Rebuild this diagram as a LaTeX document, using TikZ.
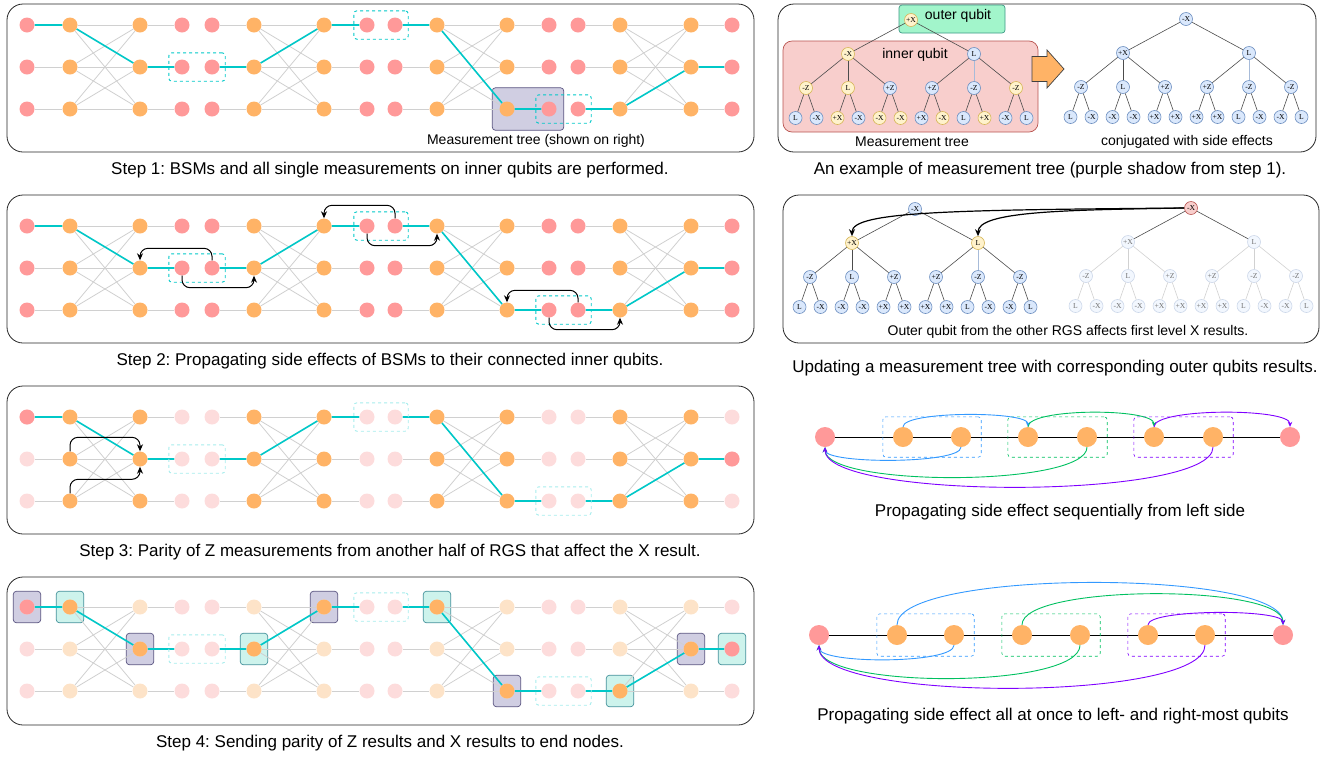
\documentclass[tikz,border=0pt]{standalone}
\usepackage{fontspec}
\setmainfont{Liberation Sans}
\newfontfamily\treefont{Liberation Serif}
\usetikzlibrary{arrows.meta,fit}
\frenchspacing

\definecolor{qred}{HTML}{FF9999}
\definecolor{qorange}{HTML}{FFB366}
\definecolor{qredf}{HTML}{FDDCDC}
\definecolor{qorangef}{HTML}{FDE3C8}
\definecolor{qteal}{HTML}{00C8C8}
\definecolor{qtealf}{HTML}{A6ECEC}
\definecolor{qwire}{HTML}{D0D0D0}
\definecolor{pfill}{HTML}{D0CEE2}
\definecolor{pdraw}{HTML}{56517E}
\definecolor{tfill}{HTML}{CDF3EC}
\definecolor{tdraw}{HTML}{3F8F99}
\definecolor{yfill}{HTML}{FFF2CC}
\definecolor{ydraw}{HTML}{D6B656}
\definecolor{bfill}{HTML}{DAE8FC}
\definecolor{bdraw}{HTML}{6C8EBF}
\definecolor{rfill}{HTML}{F8CECC}
\definecolor{rdraw}{HTML}{B85450}
\definecolor{gfill}{HTML}{A2F5CB}
\definecolor{gdraw}{HTML}{3C9A86}
\definecolor{sblue}{HTML}{3399FF}
\definecolor{sgreen}{HTML}{00C060}
\definecolor{spurple}{HTML}{7F00FF}

\pgfdeclarelayer{bg}
\pgfdeclarelayer{mid}
\pgfsetlayers{bg,mid,main}

\tikzset{
  rq/.style={circle,fill=qred,minimum size=15pt,inner sep=0pt},
  rqf/.style={rq,fill=qredf},
  oq/.style={rq,fill=qorange},
  oqf/.style={rq,fill=qorangef},
  wire/.style={draw=qwire,line width=0.8pt},
  tpath/.style={draw=qteal,line width=1.6pt},
  bsm/.style={draw=qteal,dashed,line width=0.9pt,rounded corners=3pt,inner xsep=5.5pt,inner ysep=6.5pt},
  bsmf/.style={bsm,draw=qtealf},
  pshade/.style={fill=pfill,draw=pdraw,line width=0.7pt,rounded corners=3pt,inner xsep=6pt,inner ysep=8pt},
  tshade/.style={pshade,fill=tfill,draw=tdraw},
  panel/.style={draw=black!85,line width=0.8pt,rounded corners=16pt},
  stepcap/.style={font=\fontsize{17}{19}\selectfont},
  intext/.style={font=\fontsize{14}{16}\selectfont},
  bendarr/.style={draw,line width=1pt,rounded corners=8pt,-{Stealth[length=7pt,width=6pt]}},
  tq/.style={circle,draw,line width=0.6pt,minimum size=13pt,inner sep=0pt,font=\treefont\fontsize{7.6}{8}\selectfont},
  yq/.style={tq,fill=yfill,draw=ydraw},
  bq/.style={tq,fill=bfill,draw=bdraw},
  bqf/.style={tq,fill=bfill!35,draw=bdraw!35,text=black!55},
  rtq/.style={tq,fill=rfill,draw=rdraw},
  mtree/.style={level distance=34pt,
    level 1/.style={sibling distance=126pt},
    level 2/.style={sibling distance=42pt},
    level 3/.style={sibling distance=21pt,level distance=30pt},
    edge from parent/.style={draw=black!70,line width=0.6pt}},
  pq/.style={circle,minimum size=20pt,inner sep=0pt},
  sbox/.style={dashed,line width=0.6pt,rounded corners=3pt,inner xsep=10pt,inner ysep=10pt},
  sarr/.style={line width=0.9pt,-{Stealth[length=5pt,width=4.5pt]}}
}

% one step panel: name, y of top row, red style, orange style, BSM box style
\newcommand{\qgrid}[5]{%
  \foreach \cl/\x in {1/27,2/70,3/140,4/182,5/212,6/254,7/324,8/367,9/395,10/437,11/507,12/549,13/578,14/620,15/691,16/732}{%
    \pgfmathtruncatemacro{\kk}{mod(\cl,4)}%
    \foreach \ro in {1,2,3}{%
      \ifnum\kk<2 \node[#3] (#1-\ro-\cl) at (\x,{-#2-42*(\ro-1)}) {};%
      \else \node[#4] (#1-\ro-\cl) at (\x,{-#2-42*(\ro-1)}) {};\fi
    }%
  }%
  \begin{pgfonlayer}{mid}
    \foreach \bl in {1,5,9,13}{%
      \pgfmathtruncatemacro{\cb}{\bl+1}\pgfmathtruncatemacro{\cc}{\bl+2}\pgfmathtruncatemacro{\cd}{\bl+3}%
      \foreach \ro in {1,2,3}{%
        \draw[wire] (#1-\ro-\bl) -- (#1-\ro-\cb) (#1-\ro-\cc) -- (#1-\ro-\cd);
        \foreach \so in {1,2,3}{\draw[wire] (#1-\ro-\cb) -- (#1-\so-\cc);}
      }%
    }%
    \draw[tpath] (#1-1-1) -- (#1-1-2) -- (#1-2-3) -- (#1-2-4)
      (#1-2-5) -- (#1-2-6) -- (#1-1-7) -- (#1-1-8)
      (#1-1-9) -- (#1-1-10) -- (#1-3-11) -- (#1-3-12)
      (#1-3-13) -- (#1-3-14) -- (#1-2-15) -- (#1-2-16);
  \end{pgfonlayer}
  \node[#5,fit=(#1-2-4)(#1-2-5)] (#1-bsm1) {};
  \node[#5,fit=(#1-1-8)(#1-1-9)] (#1-bsm2) {};
  \node[#5,fit=(#1-3-12)(#1-3-13)] (#1-bsm3) {};
}

% conjugated measurement tree: name, position, root style, level 1 style, other style
\newcommand{\ctree}[5]{%
  \node[#3] (#1) at (#2) {-X}
    child {node[#4] {+X}
      child {node[#5] {-Z} child {node[#5] {L}} child {node[#5] {-X}}}
      child {node[#5] {L} child {node[#5] {-X}} child {node[#5] {-X}}}
      child {node[#5] {+Z} child {node[#5] {+X}} child {node[#5] {+X}}}}
    child {node[#4] {L}
      child {node[#5] {+Z} child {node[#5] {+X}} child {node[#5] {+X}}}
      child {node[#5] {-Z} child {node[#5] {L}} child {node[#5] {-X}}}
      child {node[#5] {-Z} child {node[#5] {-X}} child {node[#5] {L}}}};
}

\begin{document}
\begin{tikzpicture}[x=1pt,y=1pt]
\useasboundingbox (0,0) rectangle (1337,-756);

% steps
\draw[panel] (7,-4) rectangle (754,-152);
\draw[panel] (7,-195) rectangle (754,-343);
\draw[panel] (7,-386) rectangle (754,-534);
\draw[panel] (7,-577) rectangle (754,-725);

\qgrid{s1}{25}{rq}{oq}{bsm}
\begin{pgfonlayer}{bg}
  \node[pshade,inner xsep=7pt,inner ysep=13.5pt,fit=(s1-3-11)(s1-3-12)] (s1-tree) {};
\end{pgfonlayer}
\node[intext] (s1-lab) at (536,-141) {Measurement tree (shown on right)};
\node[stepcap] (s1-cap) at (390,-170) {Step 1: BSMs and all single measurements on inner qubits are performed.};

\qgrid{s2}{226}{rq}{oq}{bsm}
\draw[bendarr] (s2-2-5.north) -- ++(0,12) -| (s2-2-3.north);
\draw[bendarr] (s2-2-4.south) -- ++(0,-12) -| (s2-2-6.south);
\draw[bendarr] (s2-1-9.north) -- ++(0,13) -| (s2-1-7.north);
\draw[bendarr] (s2-1-8.south) -- ++(0,-12) -| (s2-1-10.south);
\draw[bendarr] (s2-3-13.north) -- ++(0,12) -| (s2-3-11.north);
\draw[bendarr] (s2-3-12.south) -- ++(0,-12) -| (s2-3-14.south);
\node[stepcap] (s2-cap) at (390,-361) {Step 2: Propagating side effects of BSMs to their connected inner qubits.};

\qgrid{s3}{417}{rqf}{oq}{bsmf}
\node[rq] (s3-end1) at (s3-1-1) {};
\node[rq] (s3-end2) at (s3-2-16) {};
\draw[bendarr] (s3-2-2.north) -- ++(0,14) -| (s3-2-3.north);
\draw[bendarr] (s3-3-2.north) -- ++(0,14) -| (s3-2-3.south);
\node[stepcap] (s3-cap) at (390,-552) {Step 3: Parity of Z measurements from another half of RGS that affect the X result.};

\qgrid{s4}{607}{rqf}{oqf}{bsmf}
\node[rq] (s4-end1) at (s4-1-1) {};
\node[rq] (s4-end2) at (s4-2-16) {};
\foreach \n in {1-2,2-3,2-6,1-7,1-10,3-11,3-14,2-15}
  \node[oq] (s4-k\n) at (s4-\n) {};
\begin{pgfonlayer}{bg}
  \foreach \n in {1-1,2-3,1-7,3-11,2-15}
    \node[pshade,fit=(s4-\n)] (s4-z\n) {};
  \foreach \n in {1-2,2-6,1-10,3-14,2-16}
    \node[tshade,fit=(s4-\n)] (s4-x\n) {};
\end{pgfonlayer}
\node[stepcap] (s4-cap) at (390,-743) {Step 4: Sending parity of Z results and X results to end nodes.};

% measurement tree
\draw[panel] (778,-4) rectangle (1316,-152);
\draw[fill=gfill,draw=gdraw,line width=0.7pt,rounded corners=3pt] (899,-5) rectangle (1005,-33);
\node[intext] (outer) at (958,-16) {outer qubit};
\draw[fill=rfill,draw=rdraw,line width=0.7pt,rounded corners=9pt] (783,-41) rectangle (1038,-132);
\node[intext] (inner) at (915,-55) {inner qubit};
\begin{scope}[mtree]
\node[yq] (ta) at (911,-20) {+X}
  child {node[yq] {-X}
    child {node[yq] {-Z} child {node[bq] {L}} child {node[bq] {-X}}}
    child {node[yq] {L} child {node[yq] {+X}} child {node[bq] {-X}}}
    child {node[bq] {+Z} child {node[yq] {-X}} child {node[yq] {-X}}}
  }
  child {node[bq] {L}
    child {node[bq] {+Z} child {node[bq] {+X}} child {node[yq] {-X}}}
    child {node[bq] {-Z} child {node[bq] {L}} child {node[yq] {+X}}}
    child {node[yq] {-Z} child {node[bq] {-X}} child {node[bq] {L}}}
  };
\ctree{tb}{1186,-19}{bq}{bq}{bq}
\end{scope}
\draw[draw=bdraw!60,line width=0.6pt] (ta-2) -- (ta-2-2);
\draw[draw=bdraw!60,line width=0.6pt] (tb-2) -- (tb-2-2);
\draw[fill=qorange,draw=black!75,line width=0.7pt] (1032,-56.5) -- (1047,-56.5) -- (1047,-50)
  -- (1064,-69) -- (1047,-88) -- (1047,-81.5) -- (1032,-81.5) -- cycle;
\node[intext] (ta-lab) at (912,-142) {Measurement tree};
\node[intext] (tb-lab) at (1187,-142) {conjugated with side effects};
\node[stepcap] (t-cap) at (1050,-170) {An example of measurement tree (purple shadow from step 1).};

% updating with outer qubits
\draw[panel] (783,-195) rectangle (1319,-343);
\begin{scope}[mtree]
\ctree{tc}{915,-209}{bq}{yq}{bq}
\end{scope}
\begin{scope}[mtree,level 2/.append style={edge from parent/.style={draw=black!18,line width=0.6pt}}]
\ctree{td}{1191,-208}{rtq}{bqf}{bqf}
\end{scope}
\draw[draw=bdraw!60,line width=0.6pt] (tc-2) -- (tc-2-2);
\draw[line width=1.2pt,-{Stealth[length=7pt,width=6pt]}] (td.west) .. controls +(-230,-2) and +(0,25) .. (tc-1.north);
\draw[line width=1.2pt,-{Stealth[length=7pt,width=6pt]}] (td.west) .. controls +(-120,-2) and +(0,25) .. (tc-2.north);
\node[intext] (u-lab) at (1068,-332) {Outer qubit from the other RGS affects first level X results.};
\node[stepcap] (u-cap) at (1055,-368) {Updating a measurement tree with corresponding outer qubits results.};

% sequential propagation
\node[pq,fill=qred] (pa1) at (825,-437) {};
\foreach \i/\x in {2/903,3/961,4/1028,5/1087,6/1154,7/1213}
  \node[pq,fill=qorange] (pa\i) at (\x,-437) {};
\node[pq,fill=qred] (pa8) at (1290,-437) {};
\begin{pgfonlayer}{mid}
  \foreach \i [evaluate=\i as \j using int(\i+1)] in {1,...,7}
    \draw[line width=1pt] (pa\i) -- (pa\j);
\end{pgfonlayer}
\node[sbox,draw=sblue,fit=(pa2)(pa3)] (pa-b1) {};
\node[sbox,draw=sgreen,fit=(pa4)(pa5)] (pa-b2) {};
\node[sbox,draw=spurple,fit=(pa6)(pa7)] (pa-b3) {};
\draw[sarr,sblue] (pa2.north) .. controls +(0,16) and +(0,16) .. (pa4.north);
\draw[sarr,sgreen] (pa4.north) .. controls +(0,19) and +(0,19) .. (pa6.north);
\draw[sarr,spurple] (pa6.north) .. controls +(0,19) and +(0,19) .. (pa8.north);
\draw[sarr,sblue] (pa3.south) .. controls +(0,-17) and +(0,-17) .. (pa1.south);
\draw[sarr,sgreen] (pa5.south) .. controls +(0,-40) and +(0,-40) .. (pa1.south);
\draw[sarr,spurple] (pa7.south) .. controls +(0,-53) and +(0,-53) .. (pa1.south);
\node[stepcap] (pa-cap) at (1060,-512) {Propagating side effect sequentially from left side};

% all at once
\node[pq,fill=qred] (pb1) at (819,-635) {};
\foreach \i/\x in {2/897,3/954,4/1022,5/1080,6/1148,7/1205}
  \node[pq,fill=qorange] (pb\i) at (\x,-635) {};
\node[pq,fill=qred] (pb8) at (1283,-635) {};
\begin{pgfonlayer}{mid}
  \foreach \i [evaluate=\i as \j using int(\i+1)] in {1,...,7}
    \draw[line width=1pt] (pb\i) -- (pb\j);
\end{pgfonlayer}
\node[sbox,draw=sblue,fit=(pb2)(pb3),inner ysep=11pt] (pb-b1) {};
\node[sbox,draw=sgreen,fit=(pb4)(pb5),inner ysep=11pt] (pb-b2) {};
\node[sbox,draw=spurple,fit=(pb6)(pb7),inner ysep=11pt] (pb-b3) {};
\draw[sarr,sblue] (pb2.north) .. controls +(0,56) and +(0,56) .. (pb8.north);
\draw[sarr,sgreen] (pb4.north) .. controls +(0,41) and +(0,41) .. (pb8.north);
\draw[sarr,spurple] (pb6.north) .. controls +(0,16) and +(0,16) .. (pb8.north);
\draw[sarr,sblue] (pb3.south) .. controls +(0,-19) and +(0,-19) .. (pb1.south);
\draw[sarr,sgreen] (pb5.south) .. controls +(0,-44) and +(0,-44) .. (pb1.south);
\draw[sarr,spurple] (pb7.south) .. controls +(0,-57) and +(0,-57) .. (pb1.south);
\node[stepcap] (pb-cap) at (1053,-716) {Propagating side effect all at once to left- and right-most qubits};
\end{tikzpicture}
\end{document}
